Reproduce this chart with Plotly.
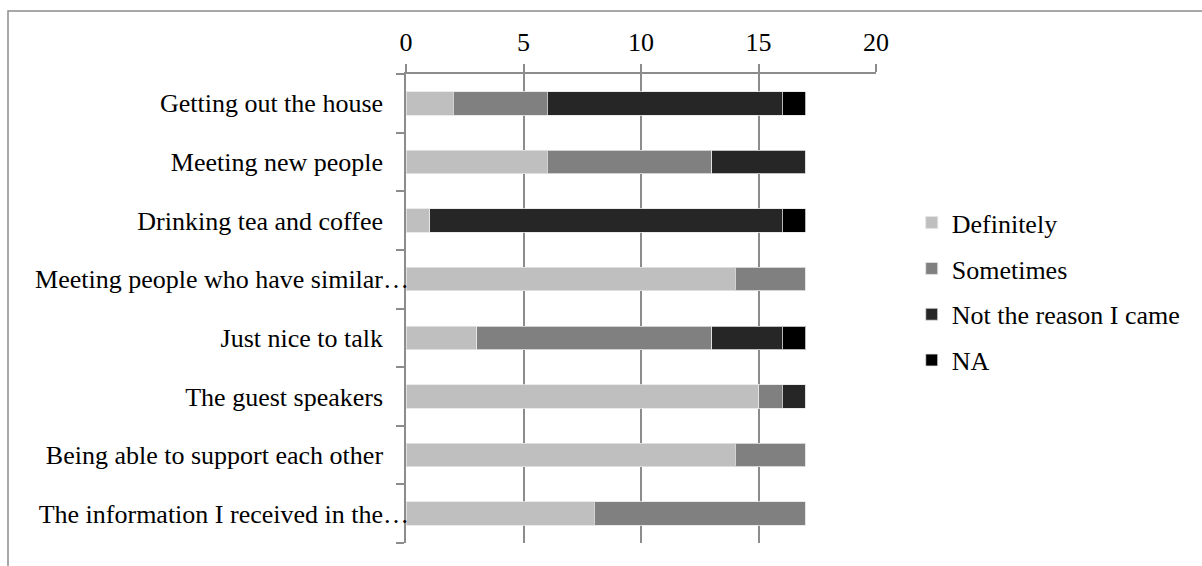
import plotly.graph_objects as go

# Survey: reasons for attending the group (number of respondents)
categories = [
    "Getting out the house",
    "Meeting new people",
    "Drinking tea and coffee",
    "Meeting people who have similar…",
    "Just nice to talk",
    "The guest speakers",
    "Being able to support each other",
    "The information I received in the…",
]
definitely = [2, 6, 1, 14, 3, 15, 14, 8]
sometimes = [4, 7, 0, 3, 10, 1, 3, 9]
not_reason = [10, 4, 15, 0, 3, 1, 0, 0]
na = [1, 0, 1, 0, 1, 0, 0, 0]

x_ticks = [0, 5, 10, 15, 20]

series = [
    ("Definitely", definitely, "#bfbfbf"),
    ("Sometimes", sometimes, "#808080"),
    ("Not the reason I came", not_reason, "#262626"),
    ("NA", na, "#000000"),
]

FONT = "'Liberation Serif', 'Times New Roman', Times, serif"
FS = 26
GRID = "#8c8c8c"

# Truncated labels let their ellipsis hang past the text edge; pad the others
tick_text = [c if c.endswith("…") else c + "\u2003" for c in categories]

fig = go.Figure()
for i, (name, vals, color) in enumerate(series):
    fig.add_trace(go.Bar(
        y=categories,
        x=vals,
        name=name,
        orientation="h",
        width=0.4,
        legendgroup=f"g{i}",
        marker=dict(color=color, line=dict(color="rgba(230,230,230,0.8)", width=1)),
    ))

fig.update_layout(
    width=1202,
    height=566,
    barmode="stack",
    paper_bgcolor="white",
    plot_bgcolor="white",
    margin=dict(l=406, r=326, t=74, b=23),
    font=dict(family=FONT, size=FS, color="black"),
    legend=dict(
        x=1.076, y=0.733, xanchor="left", yanchor="top",
        traceorder="grouped",
        tracegroupgap=9,
        font=dict(family=FONT, size=FS, color="black"),
        bgcolor="rgba(0,0,0,0)",
    ),
    xaxis=dict(
        side="top",
        range=[0, 20],
        tickvals=x_ticks,
        showgrid=True,
        gridcolor=GRID,
        gridwidth=1.5,
        zeroline=False,
        showline=True,
        linecolor=GRID,
        linewidth=1.5,
        ticks="outside",
        ticklen=8,
        tickcolor=GRID,
        tickwidth=1.5,
        ticklabelstandoff=3,
        tickfont=dict(family=FONT, size=FS, color="black"),
    ),
    yaxis=dict(
        categoryorder="array",
        categoryarray=categories,
        tickvals=categories,
        ticktext=tick_text,
        autorange="reversed",
        showline=True,
        linecolor=GRID,
        linewidth=1.5,
        showgrid=False,
        ticks="outside",
        tickson="boundaries",
        ticklen=8,
        tickcolor=GRID,
        tickwidth=1.5,
        ticklabelstandoff=-10,
        tickfont=dict(family=FONT, size=FS, color="black"),
    ),
    shapes=[
        dict(type="rect", xref="paper", yref="paper",
             x0=(8 - 406) / 470, x1=1.8, y0=-0.2, y1=(543 - 11) / 469,
             line=dict(color="#8c8c8c", width=1.5), fillcolor="rgba(0,0,0,0)",
             layer="below"),
    ],
)

fig.write_html("out.html")
